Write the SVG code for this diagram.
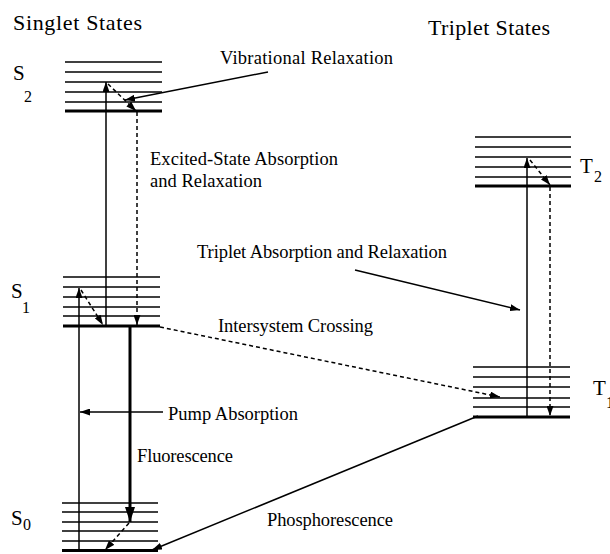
<svg xmlns="http://www.w3.org/2000/svg" width="610" height="554" viewBox="0 0 610 554">
<style>
text{font-family:"Liberation Serif","Times New Roman",serif;fill:#000}
.lbl{font-size:18.5px}
.ttl{font-size:22px}
.st{font-size:21px}
.sub{font-size:16px}
.lv{stroke:#000;stroke-width:1.5}
.gd{stroke:#000;stroke-width:3.2}
.ln{stroke:#000;stroke-width:1.5;fill:none}
.ds{stroke:#000;stroke-width:1.5;fill:none;stroke-dasharray:4 3}
.fl{stroke:#000;stroke-width:3;fill:none}
</style>
<defs>
<marker id="ah" viewBox="0 0 10 7" refX="10" refY="3.5" markerWidth="10" markerHeight="7" markerUnits="userSpaceOnUse" orient="auto">
<path d="M0,0 L10,3.5 L0,7 z" fill="#000"/>
</marker>
<marker id="ahb" viewBox="0 0 15 10" refX="15" refY="5" markerWidth="15" markerHeight="10" markerUnits="userSpaceOnUse" orient="auto">
<path d="M0,0 L15,5 L0,10 z" fill="#000"/>
</marker>
</defs>
<rect width="610" height="554" fill="#fff"/>

<text class="ttl" x="13" y="30" textLength="129" lengthAdjust="spacing">Singlet States</text>
<text class="ttl" x="428" y="35" textLength="122" lengthAdjust="spacing">Triplet States</text>

<g id="S2">
<line class="lv" x1="65" y1="62" x2="162" y2="62"/>
<line class="lv" x1="65" y1="72" x2="162" y2="72"/>
<line class="lv" x1="65" y1="82" x2="162" y2="82"/>
<line class="lv" x1="65" y1="92" x2="162" y2="92"/>
<line class="lv" x1="65" y1="102" x2="162" y2="102"/>
<line class="gd" x1="65" y1="111" x2="162" y2="111"/>
<text class="st" x="13" y="80">S</text><text class="sub" x="24" y="102">2</text>
</g>

<g id="S1">
<line class="lv" x1="63" y1="277" x2="160" y2="277"/>
<line class="lv" x1="63" y1="287" x2="160" y2="287"/>
<line class="lv" x1="63" y1="297" x2="160" y2="297"/>
<line class="lv" x1="63" y1="307" x2="160" y2="307"/>
<line class="lv" x1="63" y1="316" x2="160" y2="316"/>
<line class="gd" x1="63" y1="326" x2="160" y2="326"/>
<text class="st" x="11" y="298">S</text><text class="sub" x="22" y="313">1</text>
</g>

<g id="S0">
<line class="lv" x1="62" y1="503" x2="158" y2="503"/>
<line class="lv" x1="62" y1="512" x2="158" y2="512"/>
<line class="lv" x1="62" y1="522" x2="158" y2="522"/>
<line class="lv" x1="62" y1="531" x2="158" y2="531"/>
<line class="lv" x1="62" y1="541" x2="158" y2="541"/>
<line class="gd" x1="62" y1="550.5" x2="158" y2="550.5"/>
<text class="st" x="11" y="525">S</text><text class="sub" x="23" y="530">0</text>
</g>

<g id="T2">
<line class="lv" x1="475" y1="137" x2="571" y2="137"/>
<line class="lv" x1="475" y1="147" x2="571" y2="147"/>
<line class="lv" x1="475" y1="157" x2="571" y2="157"/>
<line class="lv" x1="475" y1="167" x2="571" y2="167"/>
<line class="lv" x1="475" y1="177" x2="571" y2="177"/>
<line class="gd" x1="475" y1="186" x2="571" y2="186"/>
<text class="st" x="580" y="173">T</text><text class="sub" x="594" y="182">2</text>
</g>

<g id="T1">
<line class="lv" x1="473" y1="367" x2="570" y2="367"/>
<line class="lv" x1="473" y1="377" x2="570" y2="377"/>
<line class="lv" x1="473" y1="387" x2="570" y2="387"/>
<line class="lv" x1="473" y1="398" x2="570" y2="398"/>
<line class="lv" x1="473" y1="407" x2="570" y2="407"/>
<line class="gd" x1="473" y1="417" x2="570" y2="417"/>
<text class="st" x="593" y="395">T</text><text class="sub" x="606" y="408">1</text>
</g>

<g id="connectors">
<!-- pump absorption S0 -> S1 -->
<line class="ln" x1="79" y1="550" x2="79" y2="288" marker-end="url(#ah)"/>
<line class="ln" x1="163" y1="412" x2="80" y2="412" marker-end="url(#ah)"/>
<!-- S1 -> S2 excited-state absorption -->
<line class="ln" x1="106" y1="326" x2="106" y2="82" marker-end="url(#ah)"/>
<!-- S2 vibrational relaxation -->
<line class="ds" x1="108" y1="84" x2="136" y2="111" marker-end="url(#ah)"/>
<!-- S2 -> S1 relaxation -->
<line class="ds" x1="137" y1="112" x2="137" y2="325" marker-end="url(#ah)"/>
<!-- S1 vibrational relaxation -->
<line class="ds" x1="81" y1="290" x2="103" y2="325" marker-end="url(#ah)"/>
<!-- fluorescence -->
<line class="fl" x1="130" y1="327" x2="130" y2="522" marker-end="url(#ahb)"/>
<!-- S0 relaxation -->
<line class="ds" x1="129" y1="523" x2="105" y2="550" marker-end="url(#ah)"/>
<!-- intersystem crossing -->
<line class="ds" x1="160" y1="327" x2="500" y2="397" marker-end="url(#ah)"/>
<!-- phosphorescence -->
<line class="ln" x1="478" y1="416" x2="152" y2="550" marker-end="url(#ah)"/>
<!-- triplet absorption T1 -> T2 -->
<line class="ln" x1="527" y1="417" x2="527" y2="158" marker-end="url(#ah)"/>
<!-- T2 vibrational relaxation -->
<line class="ds" x1="530" y1="160" x2="550" y2="185" marker-end="url(#ah)"/>
<!-- T2 -> T1 relaxation -->
<line class="ds" x1="550" y1="187" x2="550" y2="416" marker-end="url(#ah)"/>
<!-- label pointers -->
<line class="ln" x1="268" y1="72" x2="125" y2="100" marker-end="url(#ah)"/>
<line class="ln" x1="355" y1="270" x2="520" y2="310" marker-end="url(#ah)"/>
</g>

<g id="labels">
<text class="lbl" x="220" y="64" textLength="173" lengthAdjust="spacing">Vibrational Relaxation</text>
<text class="lbl" x="150" y="165" textLength="188" lengthAdjust="spacing">Excited-State Absorption</text>
<text class="lbl" x="150" y="187" textLength="112" lengthAdjust="spacing">and Relaxation</text>
<text class="lbl" x="197" y="258" textLength="250" lengthAdjust="spacing">Triplet Absorption and Relaxation</text>
<text class="lbl" x="218" y="332" textLength="155" lengthAdjust="spacing">Intersystem Crossing</text>
<text class="lbl" x="168" y="420" textLength="130" lengthAdjust="spacing">Pump Absorption</text>
<text class="lbl" x="137" y="462" textLength="96" lengthAdjust="spacing">Fluorescence</text>
<text class="lbl" x="267" y="526" textLength="126" lengthAdjust="spacing">Phosphorescence</text>
</g>
</svg>
